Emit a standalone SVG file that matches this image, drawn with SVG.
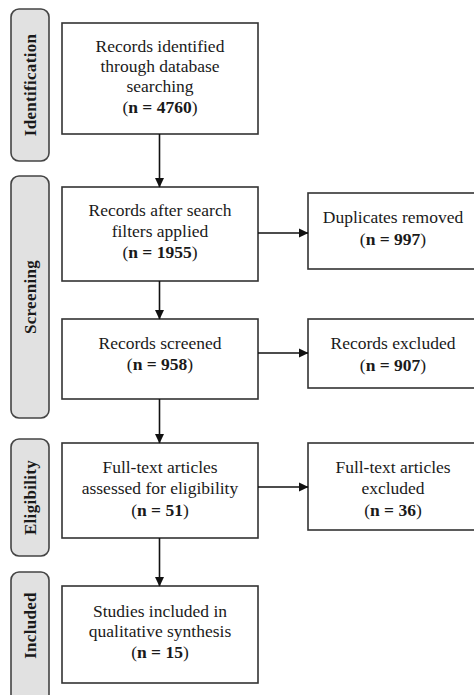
<svg xmlns="http://www.w3.org/2000/svg" width="474" height="695" viewBox="0 0 474 695">
<style>
.bg{fill:#ffffff}
.box{fill:#ffffff;stroke:#333333;stroke-width:1.6}
.pill{fill:#e1e1e1;stroke:#444444;stroke-width:1.6}
.t{font-family:"Liberation Serif","Times New Roman",serif;font-size:17.5px;fill:#1a1a1a;text-anchor:middle}
.b{font-weight:bold}
.side{font-family:"Liberation Serif","Times New Roman",serif;font-size:17px;font-weight:bold;fill:#1a1a1a;text-anchor:middle;letter-spacing:0.3px}
.c{stroke:#111111;stroke-width:1.6;fill:none}
</style>
<defs>
<marker id="ah" markerWidth="10" markerHeight="10" refX="9" refY="5" orient="auto" markerUnits="userSpaceOnUse">
<path d="M0,0.5 L9.5,5 L0,9.5 Z" fill="#111111"/>
</marker>
</defs>
<rect class="bg" x="0" y="0" width="474" height="695"/>

<g id="phase-identification">
<rect class="pill" x="11" y="9" width="38" height="152" rx="8"/>
<text class="side" transform="translate(36,85) rotate(-90)">Identification</text>
</g>
<g id="phase-screening">
<rect class="pill" x="11" y="176" width="38" height="242" rx="8"/>
<text class="side" transform="translate(36,297) rotate(-90)">Screening</text>
</g>
<g id="phase-eligibility">
<rect class="pill" x="11" y="439" width="38" height="117" rx="8"/>
<text class="side" transform="translate(36,497.5) rotate(-90)">Eligibility</text>
</g>
<g id="phase-included">
<rect class="pill" x="11" y="572" width="38" height="140" rx="8"/>
<text class="side" transform="translate(36,625.5) rotate(-90)">Included</text>
</g>

<g id="identified">
<rect class="box" x="62" y="23" width="196" height="111"/>
<text class="t" x="160" y="52">Records identified</text>
<text class="t" x="160" y="72">through database</text>
<text class="t" x="160" y="92">searching</text>
<text class="t" x="160" y="113">(<tspan class="b">n = 4760</tspan>)</text>
</g>
<g id="filtered">
<rect class="box" x="62" y="187" width="196" height="94"/>
<text class="t" x="160" y="216">Records after search</text>
<text class="t" x="160" y="237">filters applied</text>
<text class="t" x="160" y="258">(<tspan class="b">n = 1955</tspan>)</text>
</g>
<g id="screened">
<rect class="box" x="62" y="319" width="196" height="80"/>
<text class="t" x="160" y="349">Records screened</text>
<text class="t" x="160" y="370">(<tspan class="b">n = 958</tspan>)</text>
</g>
<g id="fulltext">
<rect class="box" x="62" y="443" width="196" height="95"/>
<text class="t" x="160" y="473">Full-text articles</text>
<text class="t" x="160" y="494">assessed for eligibility</text>
<text class="t" x="160" y="516">(<tspan class="b">n = 51</tspan>)</text>
</g>
<g id="included">
<rect class="box" x="62" y="586" width="196" height="97"/>
<text class="t" x="160" y="617">Studies included in</text>
<text class="t" x="160" y="637">qualitative synthesis</text>
<text class="t" x="160" y="658">(<tspan class="b">n = 15</tspan>)</text>
</g>
<g id="duplicates">
<rect class="box" x="308" y="193" width="170" height="76"/>
<text class="t" x="393" y="223">Duplicates removed</text>
<text class="t" x="393" y="245">(<tspan class="b">n = 997</tspan>)</text>
</g>
<g id="excluded">
<rect class="box" x="308" y="319" width="170" height="69"/>
<text class="t" x="393" y="349">Records excluded</text>
<text class="t" x="393" y="371">(<tspan class="b">n = 907</tspan>)</text>
</g>
<g id="fulltext-excluded">
<rect class="box" x="308" y="443" width="170" height="87"/>
<text class="t" x="393" y="473">Full-text articles</text>
<text class="t" x="393" y="494">excluded</text>
<text class="t" x="393" y="516">(<tspan class="b">n = 36</tspan>)</text>
</g>

<g id="connectors">
<line class="c" x1="159.5" y1="134" x2="159.5" y2="187" marker-end="url(#ah)"/>
<line class="c" x1="159.5" y1="281" x2="159.5" y2="319" marker-end="url(#ah)"/>
<line class="c" x1="159.5" y1="399" x2="159.5" y2="443" marker-end="url(#ah)"/>
<line class="c" x1="159.5" y1="538" x2="159.5" y2="586" marker-end="url(#ah)"/>
<line class="c" x1="258" y1="233" x2="308" y2="233" marker-end="url(#ah)"/>
<line class="c" x1="258" y1="353" x2="308" y2="353" marker-end="url(#ah)"/>
<line class="c" x1="258" y1="487" x2="308" y2="487" marker-end="url(#ah)"/>
</g>
</svg>
